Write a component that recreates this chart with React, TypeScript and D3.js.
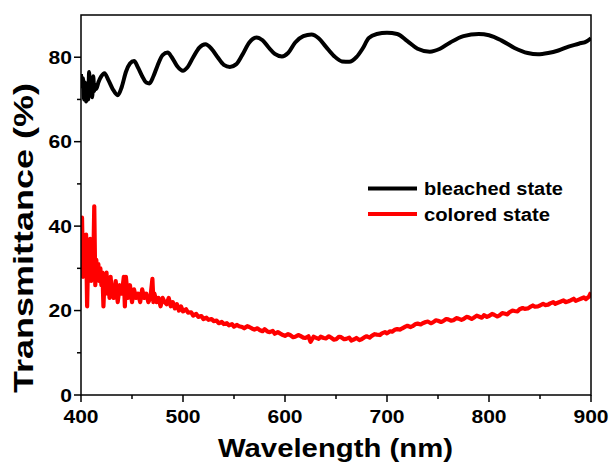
import React from "react";
import * as d3 from "d3";

const xTicks = [400, 500, 600, 700, 800, 900];
const xMinorTicks = [450, 550, 650, 750, 850];
const yTicks = [0, 20, 40, 60, 80];
const yMinorTicks = [10, 30, 50, 70];

const seriesNames = ["bleached state", "colored state"];
const seriesColors = ["#000000", "#ff0000"];

const bleached: [number, number][] = [
  [400, 76], [401, 73], [402, 75], [403, 70], [404, 74], [405, 69.5], [406, 72], [407, 70],
  [408, 76.5], [409, 71], [410, 73], [411, 70.5], [412, 75.5], [413, 72], [414, 73.5], [415, 72.5],
  [417, 74], [420, 75.5], [423, 76.2], [427, 74.5], [431, 72.5], [436, 71], [440, 73], [444, 76.5],
  [448, 78.5], [452, 79.1], [456, 77.5], [460, 75.5], [464, 74], [467, 73.8], [471, 75.5], [475, 78],
  [480, 80.5], [485, 81.1], [489, 80], [494, 78], [500, 76.8], [504, 77.5], [510, 80], [516, 82.3],
  [522, 83.1], [528, 82], [534, 80], [540, 78.2], [546, 77.7], [552, 78.3], [558, 80.5], [565, 83.5],
  [572, 84.7], [578, 84], [584, 82.3], [590, 80.8], [597, 80.2], [603, 81], [610, 83.5], [618, 85],
  [626, 85.4], [633, 84.5], [640, 82.5], [648, 80.3], [656, 79], [663, 78.9], [670, 80], [676, 82],
  [682, 84.5], [690, 85.5], [700, 85.8], [710, 85.5], [720, 83.8], [730, 82], [742, 81.3], [752, 82],
  [762, 83.5], [775, 85], [790, 85.5], [800, 85.2], [812, 84], [825, 82.2], [838, 81], [848, 80.7],
  [858, 81], [868, 81.6], [878, 82.5], [888, 83.2], [896, 83.8], [900, 84.5],
];

const colored: [number, number][] = [
  [400, 35], [401, 42], [402, 28], [403, 36], [404, 30], [405, 38], [406, 21], [407, 33], [408, 29],
  [409, 37], [410, 27], [411, 33], [412, 30], [413, 44.7], [414, 26], [415, 32], [416, 28], [417, 31],
  [418, 27], [419, 30], [420, 26], [421, 29], [422, 21], [423, 27], [424, 25], [425, 29], [426, 24],
  [427, 27], [428, 23], [429, 28], [430, 25], [432, 23], [434, 27], [436, 22], [438, 26], [440, 24],
  [442, 28], [443, 21], [444, 28], [446, 23], [448, 26], [450, 22], [452, 25], [454, 23], [456, 24],
  [458, 22], [460, 25], [462, 23], [464, 24], [466, 22], [468, 23], [470, 27.5], [471, 22], [472, 24],
  [474, 22], [476, 23], [478, 21], [480, 23], [482, 22], [484, 21.5], [486, 23], [488, 21], [490, 22],
  [492, 20.5], [494, 21.5], [496, 20], [498, 21], [500, 19.8], [503, 20.3], [505, 19.5], [508, 19.6],
  [510, 18.8], [513, 19.2], [515, 18.5], [518, 18.7], [520, 18], [523, 18.3], [525, 17.8], [528, 18.0],
  [530, 17.5], [533, 17.6], [535, 17], [538, 17.3], [540, 16.8], [543, 17.0], [545, 16.5], [548, 16.8],
  [550, 16.2], [553, 16.6], [555, 16.3], [558, 16.1], [560, 15.8], [563, 16.3], [565, 16.1], [568, 15.7],
  [570, 15.5], [573, 15.8], [575, 15.4], [578, 15.1], [580, 15.6], [583, 15.0], [585, 14.9], [588, 15.2],
  [590, 14.5], [593, 14.9], [595, 14.6], [598, 14.2], [600, 14.0], [603, 14.4], [605, 14.2], [608, 13.7],
  [610, 13.8], [613, 14.2], [615, 14.0], [618, 13.6], [620, 13.5], [623, 13.9], [625, 12.6], [628, 13.8],
  [630, 13.6], [633, 13.3], [635, 13.8], [638, 13.5], [640, 13.4], [643, 13.9], [645, 13.6], [648, 13.1],
  [650, 13.2], [653, 13.8], [655, 13.7], [658, 13.2], [660, 13.3], [663, 13.6], [665, 12.9], [668, 13.2],
  [670, 13.5], [673, 13.0], [675, 13.2], [678, 13.7], [680, 13.9], [683, 13.6], [685, 14.0], [688, 14.4],
  [690, 14.3], [693, 14.2], [695, 14.6], [698, 14.9], [700, 14.6], [703, 15.1], [705, 15.0], [708, 15.5],
  [710, 15.6], [713, 15.5], [715, 15.8], [718, 16.2], [720, 16.4], [723, 16.1], [725, 16.3], [728, 16.8],
  [730, 16.9], [733, 16.7], [735, 17.0], [738, 17.3], [740, 17.4], [743, 17.0], [745, 17.2], [748, 17.7],
  [750, 17.6], [753, 17.3], [755, 17.5], [758, 18.0], [760, 17.9], [763, 17.6], [765, 17.7], [768, 18.2],
  [770, 18.1], [773, 17.8], [775, 18.0], [778, 18.5], [780, 18.4], [783, 18.0], [785, 18.3], [788, 18.8],
  [790, 18.6], [793, 18.3], [795, 18.9], [798, 18.5], [800, 18.7], [803, 19.2], [805, 19.0], [808, 18.6],
  [810, 18.8], [813, 19.4], [815, 19.3], [818, 19.1], [820, 19.6], [823, 20.0], [825, 19.9], [828, 19.8],
  [830, 20.3], [833, 20.6], [835, 20.4], [838, 20.5], [840, 20.8], [843, 21.2], [845, 20.9], [848, 21.0],
  [850, 21.2], [853, 21.6], [855, 21.3], [858, 21.4], [860, 21.7], [863, 22.0], [865, 21.6], [868, 21.9],
  [870, 22.1], [873, 22.4], [875, 22.0], [878, 22.2], [880, 22.4], [883, 22.8], [885, 22.3], [888, 22.6],
  [890, 22.8], [893, 23.1], [895, 22.7], [898, 23.3], [900, 24.3],
];

const W = 610;
const H = 464;
const left = 81;
const right = 591;
const top = 15;
const bottom = 395;
const FONT = "'Liberation Sans', Arial, sans-serif";
const SX = 1.17;

export default function App() {
  const x = d3.scaleLinear().domain([400, 900]).range([left, right]);
  const y = d3.scaleLinear().domain([0, 90]).range([bottom, top]);

  const lineBleached = d3
    .line<[number, number]>()
    .x((d) => x(d[0]))
    .y((d) => y(d[1]))
    .curve(d3.curveMonotoneX);
  const lineColored = d3
    .line<[number, number]>()
    .x((d) => x(d[0]))
    .y((d) => y(d[1]));

  return (
    <svg
      width={W}
      height={H}
      style={{ position: "absolute", left: 0, top: 0, background: "#fff" }}
      fontFamily={FONT}
    >
      <rect x={0} y={0} width={W} height={H} fill="#fff" />
      <defs>
        <clipPath id="plot">
          <rect x={left} y={top} width={right - left} height={bottom - top} />
        </clipPath>
      </defs>
      <g clipPath="url(#plot)">
        <path d={lineColored(colored) || ""} fill="none" stroke={seriesColors[1]} strokeWidth={4.2} strokeLinejoin="round" />
        <path d={lineBleached(bleached) || ""} fill="none" stroke={seriesColors[0]} strokeWidth={4} strokeLinejoin="round" />
      </g>
      <rect x={left} y={top} width={right - left} height={bottom - top} fill="none" stroke="#000" strokeWidth={1.5} />
      {xTicks.map((t) => (
        <g key={"xt" + t}>
          <line x1={x(t)} x2={x(t)} y1={bottom} y2={bottom + 7} stroke="#000" strokeWidth={1.5} />
          <text
            transform={`translate(${x(t)},${bottom + 28}) scale(${SX},1)`}
            textAnchor="middle"
            fontSize={18}
            fontWeight="bold"
          >
            {t}
          </text>
        </g>
      ))}
      {xMinorTicks.map((t) => (
        <line key={"xm" + t} x1={x(t)} x2={x(t)} y1={bottom} y2={bottom + 4} stroke="#000" strokeWidth={1.5} />
      ))}
      {yTicks.map((t) => (
        <g key={"yt" + t}>
          <line x1={left - 7} x2={left} y1={y(t)} y2={y(t)} stroke="#000" strokeWidth={1.5} />
          <text
            transform={`translate(${left - 9},${y(t) + 6.5}) scale(${SX},1)`}
            textAnchor="end"
            fontSize={18}
            fontWeight="bold"
          >
            {t}
          </text>
        </g>
      ))}
      {yMinorTicks.map((t) => (
        <line key={"ym" + t} x1={left - 4} x2={left} y1={y(t)} y2={y(t)} stroke="#000" strokeWidth={1.5} />
      ))}
      <text
        x={218}
        y={457}
        fontSize={25}
        fontWeight="bold"
        textLength={235}
        lengthAdjust="spacingAndGlyphs"
      >
        Wavelength (nm)
      </text>
      <text
        transform={`translate(33, 393) rotate(-90)`}
        fontSize={27}
        fontWeight="bold"
        textLength={310}
        lengthAdjust="spacingAndGlyphs"
      >
        Transmittance (%)
      </text>
      {seriesNames.map((name, i) => (
        <g key={name}>
          <line x1={368} x2={417} y1={188.5 + i * 25.5} y2={188.5 + i * 25.5} stroke={seriesColors[i]} strokeWidth={4} />
          <text
            x={424}
            y={195 + i * 25.5}
            fontSize={18}
            fontWeight="bold"
            textLength={i === 0 ? 139 : 126}
            lengthAdjust="spacingAndGlyphs"
          >
            {name}
          </text>
        </g>
      ))}
    </svg>
  );
}
